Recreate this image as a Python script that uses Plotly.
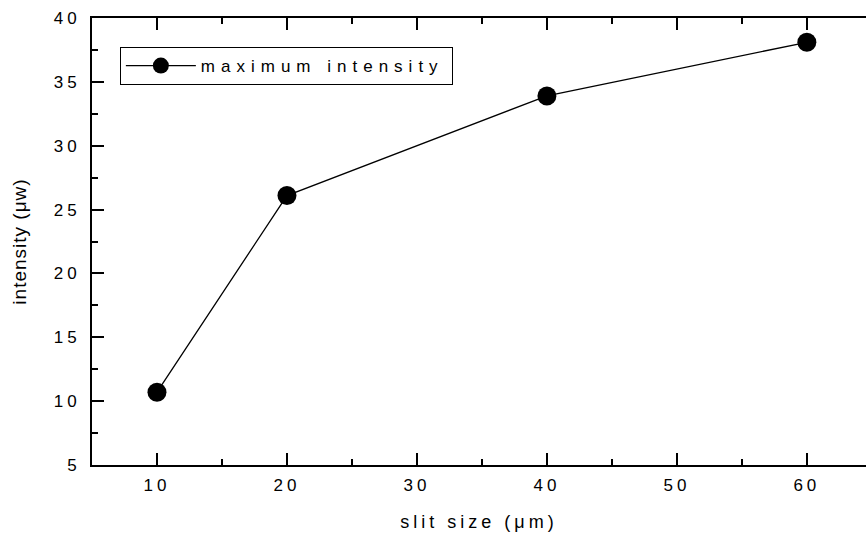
import plotly.graph_objects as go

# Slit width vs. measured peak intensity
slit_size_um = [10, 20, 40, 60]
max_intensity_uw = [10.7, 26.1, 33.9, 38.1]
series_name = "maximum intensity"

x_title = "slit size (\u03bcm)"
y_title = "intensity (\u03bcw)"

FONT = "Liberation Sans, Arial, sans-serif"
black = "black"

fig = go.Figure()
fig.add_trace(go.Scatter(
    x=slit_size_um, y=max_intensity_uw, name=series_name,
    mode="lines+markers",
    line=dict(color=black, width=1.3),
    marker=dict(color=black, size=19, symbol="circle"),
    showlegend=True,
))

axis_common = dict(
    ticks="inside", ticklen=12, tickwidth=2, tickcolor=black,
    showgrid=False, zeroline=False,
    tickfont=dict(family=FONT, size=17, color=black),
)

fig.update_layout(
    width=866, height=539,
    margin=dict(l=92, r=0, t=18, b=74),
    paper_bgcolor="white", plot_bgcolor="white",
    font=dict(family=FONT, color=black),
    xaxis=dict(
        range=[5, 64.55], tick0=0, dtick=10,
        showline=True, linewidth=2, linecolor=black, mirror="ticks",
        minor=dict(ticks="inside", ticklen=6, tickwidth=2, tickcolor=black, dtick=5, tick0=0),
        title=dict(text=x_title, font=dict(family=FONT, size=18, color=black), standoff=21),
        automargin=True,
        ticklabelstandoff=4,
        **axis_common,
    ),
    yaxis=dict(
        range=[5, 40], tick0=0, dtick=5,
        showline=True, linewidth=2, linecolor=black,
        minor=dict(ticks="inside", ticklen=6, tickwidth=2, tickcolor=black, dtick=2.5, tick0=0),
        title=dict(text=y_title, font=dict(family=FONT, size=19, color=black), standoff=30),
        automargin=True,
        ticklabelstandoff=6,
        **axis_common,
    ),
    yaxis2=dict(
        overlaying="y", side="right", range=[5, 40], tick0=0, dtick=5,
        showline=False, showticklabels=False,
        minor=dict(ticks="inside", ticklen=6, tickwidth=2, tickcolor=black, dtick=2.5, tick0=0),
        **axis_common,
    ),
    legend=dict(
        x=0.036, y=0.935, xanchor="left", yanchor="top",
        orientation="h", entrywidth=246, itemwidth=70,
        bordercolor=black, borderwidth=1, bgcolor="white",
        font=dict(family=FONT, size=17, color=black),
    ),
)

# Widen the character spacing of the labels, in the style of the original plotting package
spacing_js = """
var gd = document.getElementsByClassName('plotly-graph-div')[0];
function spaceOut() {
  gd.querySelectorAll('.xtick text, .ytick text').forEach(function (t) { t.style.letterSpacing = '4px'; });
  gd.querySelectorAll('.legendtext').forEach(function (t) { t.style.letterSpacing = '6px'; });
  gd.querySelectorAll('.xtitle').forEach(function (t) { t.style.letterSpacing = '4px'; });
  gd.querySelectorAll('.ytitle').forEach(function (t) { t.style.letterSpacing = '1px'; });
}
spaceOut();
gd.on('plotly_afterplot', spaceOut);
"""

fig.write_html("out.html", post_script=spacing_js)
